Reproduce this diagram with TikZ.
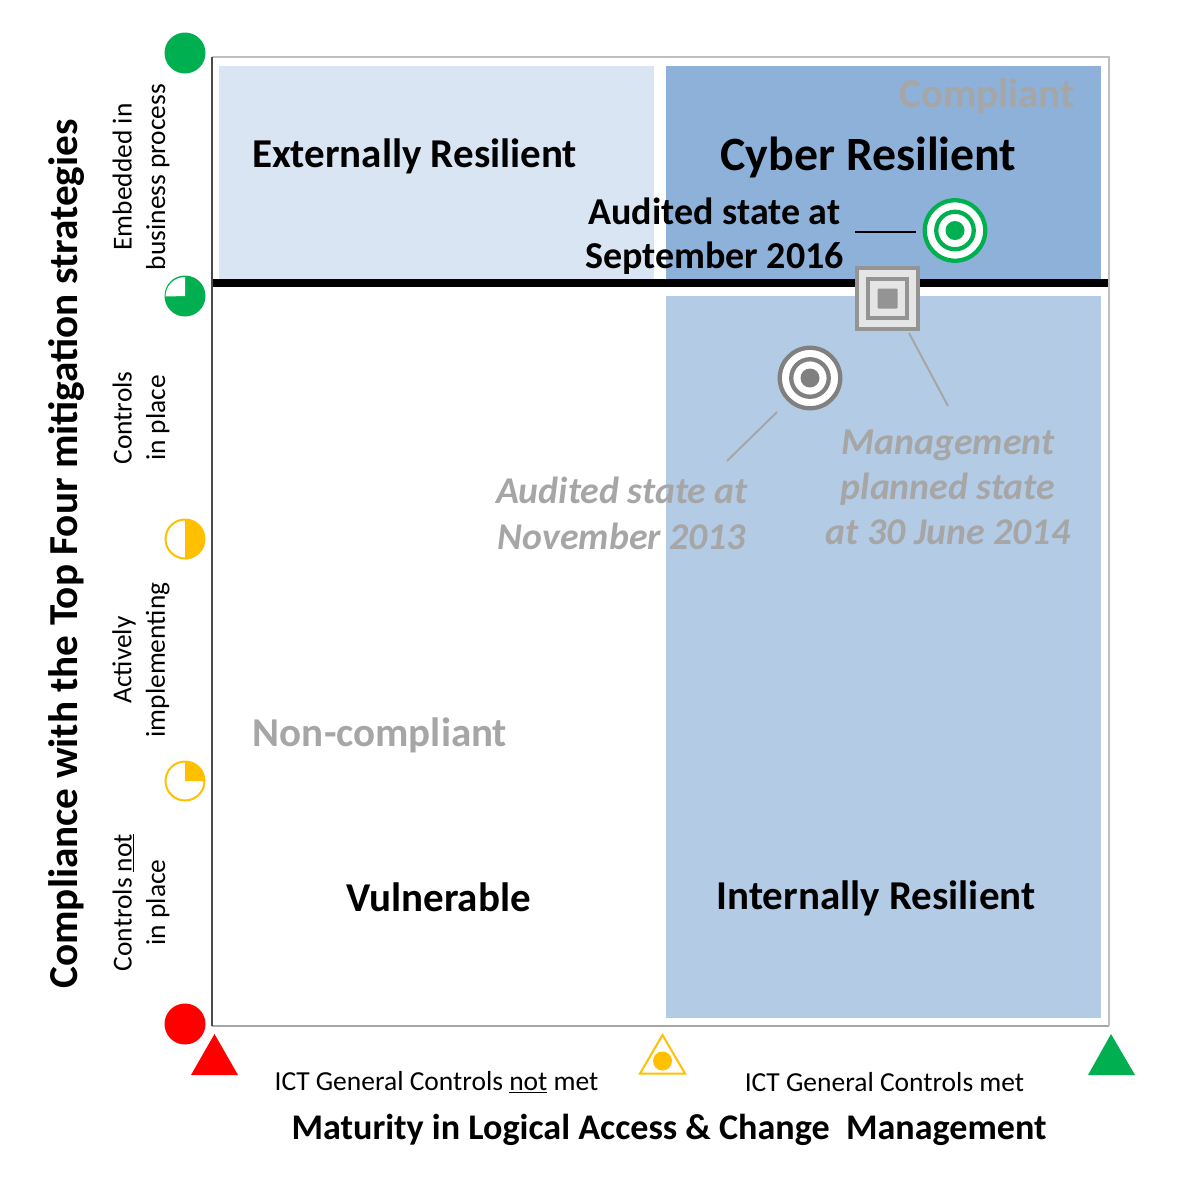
\documentclass[tikz,border=0pt]{standalone}
\usepackage{fontspec}
\setmainfont{Carlito}
\definecolor{gn}{HTML}{00B050}
\definecolor{am}{HTML}{FFC000}
\definecolor{lb}{HTML}{DAE5F3}
\definecolor{mb}{HTML}{8EB1DA}
\definecolor{pb}{HTML}{B4CBE5}
\definecolor{gt}{HTML}{A6A6A6}
\newcommand{\fs}[1]{\fontsize{#1}{#1}\selectfont}
\tikzset{x=1pt,y=-1pt,
 every node/.style={inner sep=0pt,outer sep=0pt,align=center},
 dot/.style={circle,minimum size=41pt},
 tri/.style={line join=miter},
 axlabel/.style={font=\fs{27.4},rotate=90},
 quad/.style={font=\bfseries\fs{41}},
 ghost/.style={font=\bfseries\fs{41},text=gt},
 note/.style={font=\bfseries\itshape\fs{37.8},text=gt},
 lead/.style={gt,line width=2pt}}
\begin{document}
\begin{tikzpicture}
\useasboundingbox (0,0) rectangle (1184,1179);
% fills
\fill[lb] (219,66) rectangle (654,283);
\fill[mb] (666,66) rectangle (1101,283);
\fill[pb] (666,296) rectangle (1101,1018);
\draw[gray!70,line width=1.5pt] (212,1026) -- (1109,1026);
\draw[black!25,line width=1.5pt] (212,57) -- (1109,57) -- (1109,1026);
\draw[black!70,line width=1.5pt] (212,57) -- (212,1026);
\fill[white] (213,288) rectangle (1108,296);
\draw[black,line width=8.5pt] (213,283) -- (1108,283);
% quadrant texts
\node[ghost] (comp) at (987,96) {Compliant};
\node[quad] (ext) at (414.5,156.5) {Externally Resilient};
\node[font=\bfseries\fs{47.8}] (cyb) at (868.5,157) {Cyber Resilient};
\node[ghost] (non) at (380,735) {Non-compliant};
\node[quad] (vul) at (438.5,897) {Vulnerable};
\node[quad] (int) at (876,898.5) {Internally Resilient};
% audited 2016
\node[font=\bfseries\fs{38},anchor=center] (a16a) at (714.5,211) {Audited state at};
\node[font=\bfseries\fs{38},anchor=center] (a16b) at (714.5,258) {September 2016};
\node[circle,draw=gn,line width=4.3pt,fill=white,minimum size=60.5pt] (t16) at (955,230.5) {};
\node[circle,draw=gn,line width=4.3pt,minimum size=37.5pt] at (t16) {};
\node[circle,fill=gn,minimum size=19pt] at (t16) {};
\coordinate (l16) at (855,232);
\coordinate (e16) at (916,232);
\draw[black,line width=2pt] (l16) -- (e16);
% audited 2013
\node[circle,draw=black!50,line width=4.3pt,fill=white,minimum size=60.5pt] (t13) at (810,378) {};
\node[circle,draw=black!50,line width=4.3pt,minimum size=37.5pt] at (t13) {};
\node[circle,fill=black!50,minimum size=19pt] at (t13) {};
\node[note] (a13) at (622,513) {Audited state at\\[8pt]November 2013};
\coordinate (c13a) at (777,412);
\coordinate (c13b) at (727,461);
\draw[lead] (c13a) -- (c13b);
% management
\node[rectangle,draw=black!42,line width=4pt,fill=black!10,minimum size=61pt] (mg) at (887.5,298.5) {};
\node[rectangle,draw=black!42,line width=4pt,minimum size=39pt] at (mg) {};
\node[rectangle,fill=black!42,minimum size=20pt,rounded corners=1pt] at (mg) {};
\node[note] (mn) at (948,487.5) {Management\\[7pt]planned state\\[7pt]at 30 June 2014};
\coordinate (cma) at (909,333);
\coordinate (cmb) at (948,406);
\draw[lead] (cma) -- (cmb);
% left axis
\node[font=\bfseries\fs{41.2},rotate=90] (yt) at (67,554) {Compliance with the Top Four mitigation strategies};
\node[axlabel] (y1) at (141,177) {Embedded in\\[6pt]business process};
\node[axlabel] (y2) at (141,418) {Controls\\[6pt]in place};
\node[axlabel] (y3) at (141,660) {Actively\\[6pt]implementing};
\node[axlabel] (y4) at (141,902.5) {Controls \underline{not}\\[6pt]in place};
% left markers
\node[dot,fill=gn] (d1) at (185,53) {};
\node[dot,fill=gn] (d2) at (185,296) {};
\fill[white] (185,296) -- (185,277) arc (-90:-180:19.5) -- cycle;
\node[dot,fill=white,draw=am,line width=2pt,minimum size=39pt] (d3) at (185,539) {};
\fill[am] (185,519) arc (-90:90:20) -- cycle;
\node[dot,fill=white,draw=am,line width=2pt,minimum size=39pt] (d4) at (185,781) {};
\fill[am] (185,781) -- (185,761) arc (-90:0:20) -- cycle;
\node[dot,fill=red] (d5) at (185,1024) {};
% bottom markers
\fill[red] (214.5,1034) -- (238,1075) -- (191,1075) -- cycle;
\draw[am,line width=2pt,tri] (662.5,1035) -- (685,1073.5) -- (640,1073.5) -- cycle;
\node[circle,fill=am,minimum size=19pt] (m2) at (662.5,1061) {};
\fill[gn] (1111,1034) -- (1135,1075) -- (1088,1075) -- cycle;
% bottom text
\node[font=\fs{27.5}] (b1) at (436.5,1082) {ICT General Controls \underline{not} met};
\node[font=\fs{27.5}] (b2) at (884.5,1082) {ICT General Controls met};
\node[font=\bfseries\fs{36.1}] (xt) at (669,1129.5) {Maturity in Logical Access \& Change\ \ Management};
\end{tikzpicture}
\end{document}
